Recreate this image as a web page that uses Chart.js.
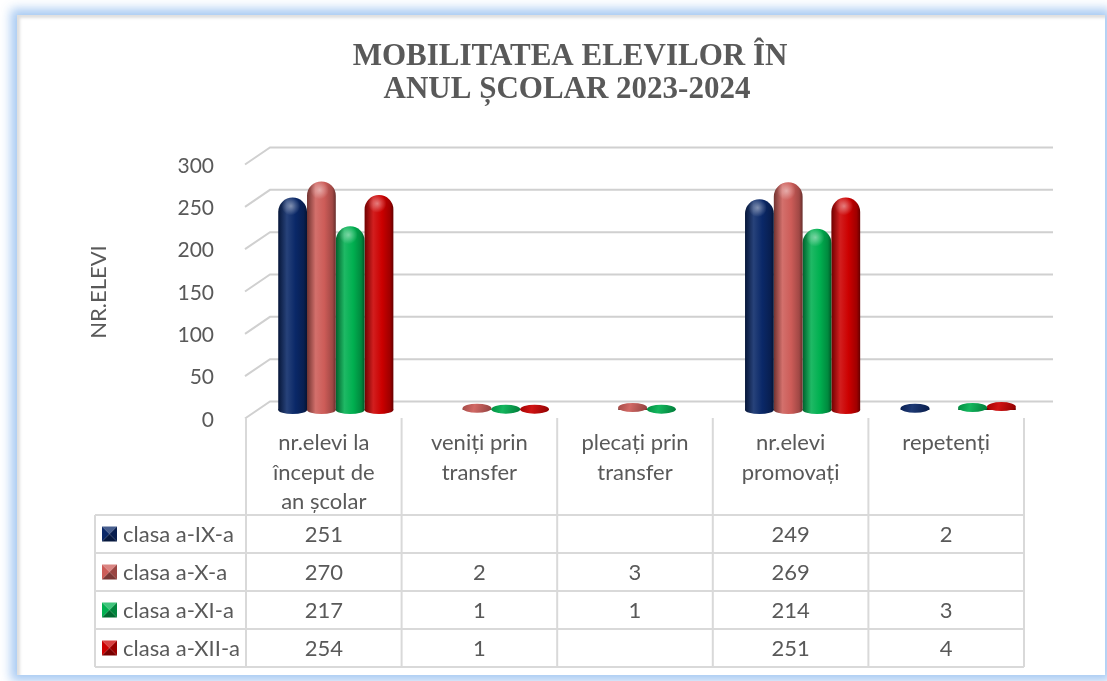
<!DOCTYPE html>
<html>
<head>
<meta charset="utf-8">
<title>Mobilitatea elevilor</title>
<script src="https://cdn.jsdelivr.net/npm/chart.js@4.4.1/dist/chart.umd.min.js"></script>
<style>
  html, body { margin: 0; padding: 0; background: #fff; }
  body { width: 1107px; height: 681px; position: relative; overflow: hidden; }
  .frame {
    position: absolute; left: 17px; top: 15px; width: 1088px; height: 660px;
    background: #fff;
    box-shadow: 0 0 10px 6px rgba(150, 192, 240, 0.85), inset 3px 3px 3px rgba(0, 0, 0, 0.13);
  }
  canvas { position: absolute; left: 0; top: 0; }
</style>
</head>
<body>
<div class="frame"></div>
<canvas id="chart" width="1107" height="681"></canvas>
<script>
// data
const categories = [
    ['nr.elevi la', 'început de', 'an școlar'],
    ['veniți prin', 'transfer'],
    ['plecați prin', 'transfer'],
    ['nr.elevi', 'promovați'],
    ['repetenți']
];
const seriesNames = ['clasa a-IX-a', 'clasa a-X-a', 'clasa a-XI-a', 'clasa a-XII-a'];
const clasaIX = [251, null, null, 249, 2];
const clasaX = [270, 2, 3, 269, null];
const clasaXI = [217, 1, 1, 214, 3];
const clasaXII = [254, 1, null, 251, 4];
const yMin = 0, yMax = 300, yStep = 50;

const titleLines = ['MOBILITATEA ELEVILOR ÎN', 'ANUL ȘCOLAR 2023-2024'];
const yTitle = 'NR.ELEVI';

// look
const palette = ['#0a2868', '#cd5c58', '#00b050', '#cc0000'];
const textColor = '#595959';
const lineColor = '#d9d9d9';
const font = 'Lato';
const depthX = 12, depthY = 8.5;   // offset from the bar plane to the back wall / front edge

function rgb(hex) {
    const n = parseInt(hex.slice(1), 16);
    return [(n >> 16) & 255, (n >> 8) & 255, n & 255];
}
function shade(hex, f) {
    const c = rgb(hex).map(v => Math.round(Math.min(255, v * f)));
    return `rgb(${c[0]},${c[1]},${c[2]})`;
}
function tint(hex, t) {
    const c = rgb(hex).map(v => Math.round(v + (255 - v) * t));
    return `rgb(${c[0]},${c[1]},${c[2]})`;
}
function cylinderGradient(ctx, x, w, color) {
    const g = ctx.createLinearGradient(x - w / 2, 0, x + w / 2, 0);
    g.addColorStop(0, shade(color, 0.55));
    g.addColorStop(0.3, tint(color, 0.12));
    g.addColorStop(0.6, color);
    g.addColorStop(0.88, shade(color, 0.78));
    g.addColorStop(1, shade(color, 0.5));
    return g;
}
function discGradient(ctx, x, y, w, color) {
    const g = ctx.createLinearGradient(x - w / 2, y - 4, x + w / 2, y + 4);
    g.addColorStop(0, shade(color, 0.8));
    g.addColorStop(0.4, tint(color, 0.08));
    g.addColorStop(1, shade(color, 0.7));
    return g;
}

function drawMarker(ctx, x, y, s, color) {
    const cx = x + s / 2, cy = y + s / 2;
    const tri = (pts, fill) => {
        ctx.beginPath();
        ctx.moveTo(pts[0], pts[1]);
        ctx.lineTo(pts[2], pts[3]);
        ctx.lineTo(cx, cy);
        ctx.closePath();
        ctx.fillStyle = fill;
        ctx.fill();
    };
    tri([x, y, x + s, y], tint(color, 0.25));
    tri([x, y, x, y + s], color);
    tri([x + s, y, x + s, y + s], shade(color, 0.75));
    tri([x, y + s, x + s, y + s], shade(color, 0.6));
}

const scenePlugin = {
    id: 'scene',
    beforeDatasetsDraw(chart) {
        const { ctx, chartArea: area, scales: { y } } = chart;
        ctx.save();
        ctx.strokeStyle = '#d0d0d0';
        ctx.lineWidth = 2;
        y.ticks.forEach(t => {
            const py = y.getPixelForValue(t.value);
            ctx.beginPath();
            ctx.moveTo(area.left - 13, py + depthY);
            ctx.lineTo(area.left + depthX, py - depthY);
            ctx.lineTo(area.right + 17, py - depthY);
            ctx.stroke();
        });
        ctx.restore();

        chart.data.datasets.forEach((ds, i) => {
            chart.getDatasetMeta(i).data.forEach(bar => {
                bar.options.backgroundColor = cylinderGradient(ctx, bar.x, bar.width, palette[i]);
            });
        });
    },
    afterDatasetsDraw(chart) {
        const { ctx } = chart;
        ctx.save();
        chart.data.datasets.forEach((ds, i) => {
            chart.getDatasetMeta(i).data.forEach((bar, j) => {
                if (ds.data[j] === null) return;
                const w = bar.width;
                const small = bar.base - bar.y < 10;
                // rounded base of the cylinder (or the whole disc for tiny values)
                ctx.beginPath();
                ctx.ellipse(bar.x, small ? bar.y : bar.base, w / 2, small ? 4.5 : 4, 0, 0, Math.PI * 2);
                ctx.fillStyle = small ? discGradient(ctx, bar.x, bar.y, w, palette[i])
                                      : cylinderGradient(ctx, bar.x, w, palette[i]);
                ctx.fill();
                // light spot on the cap
                if (!small) {
                    const hx = bar.x - w * 0.06, hy = bar.y + w * 0.3;
                    const g = ctx.createRadialGradient(hx, hy, 0, hx, hy, w * 0.32);
                    g.addColorStop(0, 'rgba(255,255,255,0.45)');
                    g.addColorStop(1, 'rgba(255,255,255,0)');
                    ctx.fillStyle = g;
                    ctx.beginPath();
                    ctx.arc(hx, hy, w * 0.32, 0, Math.PI * 2);
                    ctx.fill();
                }
            });
        });
        ctx.restore();
    },
    afterDraw(chart) {
        const { ctx, chartArea: area, scales: { x } } = chart;
        ctx.save();

        // title
        ctx.fillStyle = textColor;
        ctx.textAlign = 'center';
        ctx.textBaseline = 'alphabetic';
        ctx.font = 'bold 31px "Liberation Serif"';
        ctx.fillText(titleLines[0], 570, 65);
        ctx.fillText(titleLines[1], 567, 98);

        // axis title
        ctx.save();
        ctx.translate(99, 292);
        ctx.rotate(-Math.PI / 2);
        ctx.font = `22px ${font}`;
        ctx.textBaseline = 'middle';
        ctx.fillText(yTitle, 0, 0);
        ctx.restore();

        // data table
        const colW = (area.right - area.left) / categories.length;
        const left = area.left - depthX;
        const right = left + colW * categories.length;
        const headTop = area.bottom + 8;
        const rowTop = area.bottom + 105;
        const rowH = 38;
        const tableLeft = 95;
        const rows = [clasaIX, clasaX, clasaXI, clasaXII];

        ctx.strokeStyle = lineColor;
        ctx.lineWidth = 2;
        ctx.beginPath();
        for (let c = 0; c <= categories.length; c++) {
            const lx = left + c * colW;
            ctx.moveTo(lx, headTop);
            ctx.lineTo(lx, rowTop + rowH * rows.length);
        }
        for (let r = 0; r <= rows.length; r++) {
            ctx.moveTo(tableLeft, rowTop + r * rowH);
            ctx.lineTo(right, rowTop + r * rowH);
        }
        ctx.moveTo(tableLeft, rowTop);
        ctx.lineTo(tableLeft, rowTop + rowH * rows.length);
        ctx.stroke();

        ctx.fillStyle = textColor;
        ctx.font = `22px ${font}`;
        ctx.textBaseline = 'middle';
        ctx.textAlign = 'center';
        categories.forEach((lines, c) => {
            const cx = x.getPixelForValue(c) - depthX;
            lines.forEach((ln, k) => ctx.fillText(ln, cx, headTop + 25 + k * 29.5));
            rows.forEach((vals, r) => {
                if (vals[c] !== null) ctx.fillText(String(vals[c]), cx, rowTop + r * rowH + rowH / 2 + 1);
            });
        });

        ctx.textAlign = 'left';
        seriesNames.forEach((name, r) => {
            const cy = rowTop + r * rowH + rowH / 2;
            drawMarker(ctx, 102, cy - 7.5, 15, palette[r]);
            ctx.fillStyle = textColor;
            ctx.fillText(name, 123, cy + 1);
        });

        ctx.restore();
    }
};

new Chart(document.getElementById('chart'), {
    type: 'bar',
    data: {
        labels: categories,
        datasets: [clasaIX, clasaX, clasaXI, clasaXII].map((vals, i) => ({
            label: seriesNames[i],
            data: vals,
            backgroundColor: () => palette[i],
            borderWidth: 0,
            borderRadius: { topLeft: 15, topRight: 15, bottomLeft: 0, bottomRight: 0 },
            borderSkipped: 'bottom',
            categoryPercentage: 0.74,
            barPercentage: 1.0
        }))
    },
    options: {
        responsive: false,
        animation: false,
        layout: { padding: { left: 0, right: 71, top: 156, bottom: 271 } },
        plugins: {
            legend: { display: false },
            title: { display: false },
            tooltip: { enabled: false }
        },
        scales: {
            x: { display: false },
            y: {
                min: yMin,
                max: yMax,
                grid: { display: false },
                border: { display: false },
                ticks: {
                    stepSize: yStep,
                    padding: 36,
                    labelOffset: 10,
                    color: textColor,
                    font: { family: font, size: 21 }
                },
                afterFit(scale) { scale.width = 258; }
            }
        }
    },
    plugins: [scenePlugin]
});
</script>
</body>
</html>
